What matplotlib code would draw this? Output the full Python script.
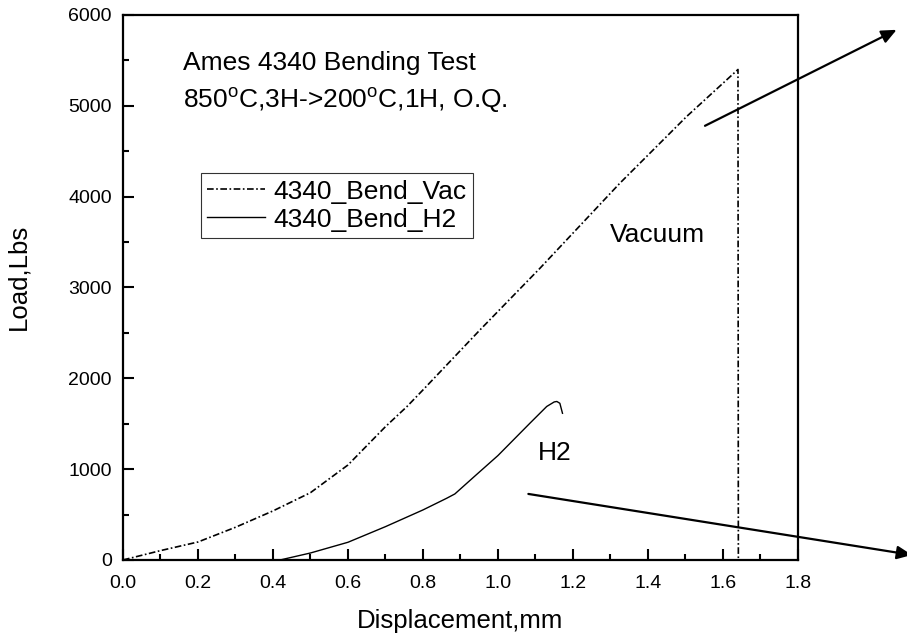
import numpy as np
import matplotlib
matplotlib.use('Agg')
import matplotlib.pyplot as plt

plt.rcParams['font.family'] = ['Liberation Sans', 'DejaVu Sans']
plt.rcParams['mathtext.fontset'] = 'custom'
plt.rcParams['mathtext.rm'] = 'Liberation Sans'

# vacuum sample: load rises, then breaks at 1.64 mm
vac_x = [0.0, 0.1, 0.2, 0.3, 0.4, 0.5, 0.6, 0.7, 0.757, 0.8, 0.952, 1.112,
         1.325, 1.503, 1.64, 1.641]
vac_y = [0, 103, 198, 360, 540, 741, 1046, 1468, 1688, 1872, 2533, 3212,
         4148, 4882, 5400, 0]

# hydrogen charged sample
h2_x = [0.419, 0.5, 0.6, 0.7, 0.8, 0.863, 0.885, 0.94, 1.0, 1.085, 1.13,
        1.15, 1.157, 1.165, 1.172]
h2_y = [0, 77, 195, 367, 551, 679, 727, 930, 1150, 1505, 1690,
        1740, 1745, 1725, 1615]

fig = plt.figure(figsize=(9.07, 6.38), dpi=100)
ax = fig.add_axes([0.1356, 0.1223, 0.7442, 0.8542])

ax.plot(vac_x, vac_y, color='black', linewidth=1.2, dashes=[4, 1.5, 1, 1.5],
        label='4340_Bend_Vac')
ax.plot(h2_x, h2_y, color='black', linewidth=1.0, label='4340_Bend_H2')

ax.set_xlim(0, 1.8)
ax.set_ylim(0, 6000)
ax.set_xticks(np.arange(0, 1.81, 0.2))
ax.set_xticks(np.arange(0.1, 1.8, 0.2), minor=True)
ax.set_yticks(np.arange(0, 6001, 1000))
ax.set_yticks(np.arange(500, 6000, 1000), minor=True)
ax.set_xticklabels(['%.1f' % v for v in np.arange(0, 1.81, 0.2)])

ax.tick_params(which='both', direction='in', top=False, right=False,
               width=1.5, labelsize=14)
ax.tick_params(axis='x', pad=11)
ax.tick_params(axis='y', pad=8)
ax.tick_params(which='major', length=8)
ax.tick_params(which='minor', length=4.5)
for s in ax.spines.values():
    s.set_linewidth(1.6)

ax.set_xlabel('Displacement,mm', fontsize=18.5, labelpad=12)
ax.set_ylabel('Load,Lbs', fontsize=18.5)
ax.yaxis.set_label_coords(-0.137, 0.52)

ax.text(0.159, 5473, 'Ames 4340 Bending Test', fontsize=19, va='center')
ax.text(0.159, 5066, r'850$^{\mathrm{o}}$C,3H->200$^{\mathrm{o}}$C,1H, O.Q.',
        fontsize=19, va='center')
ax.text(1.299, 3579, 'Vacuum', fontsize=19, va='center')
ax.text(1.107, 1178, 'H2', fontsize=19, va='center')

arrow = dict(arrowstyle='-|>,head_length=0.9,head_width=0.4', color='black',
             linewidth=1.6, shrinkA=0, shrinkB=0)
ax.annotate('', xy=(2.063, 5837), xytext=(1.552, 4780), arrowprops=arrow,
            annotation_clip=False)
ax.annotate('', xy=(2.104, 55), xytext=(1.081, 727), arrowprops=arrow,
            annotation_clip=False)

leg = ax.legend(loc='upper left', bbox_to_anchor=(0.115, 0.71), fontsize=19,
                frameon=True, fancybox=False, handlelength=2.2,
                handletextpad=0.32, borderpad=0.25, labelspacing=0.15,
                borderaxespad=0)
leg.get_frame().set_edgecolor('black')
leg.get_frame().set_linewidth(0.8)

fig.savefig('out.png', dpi=100)
